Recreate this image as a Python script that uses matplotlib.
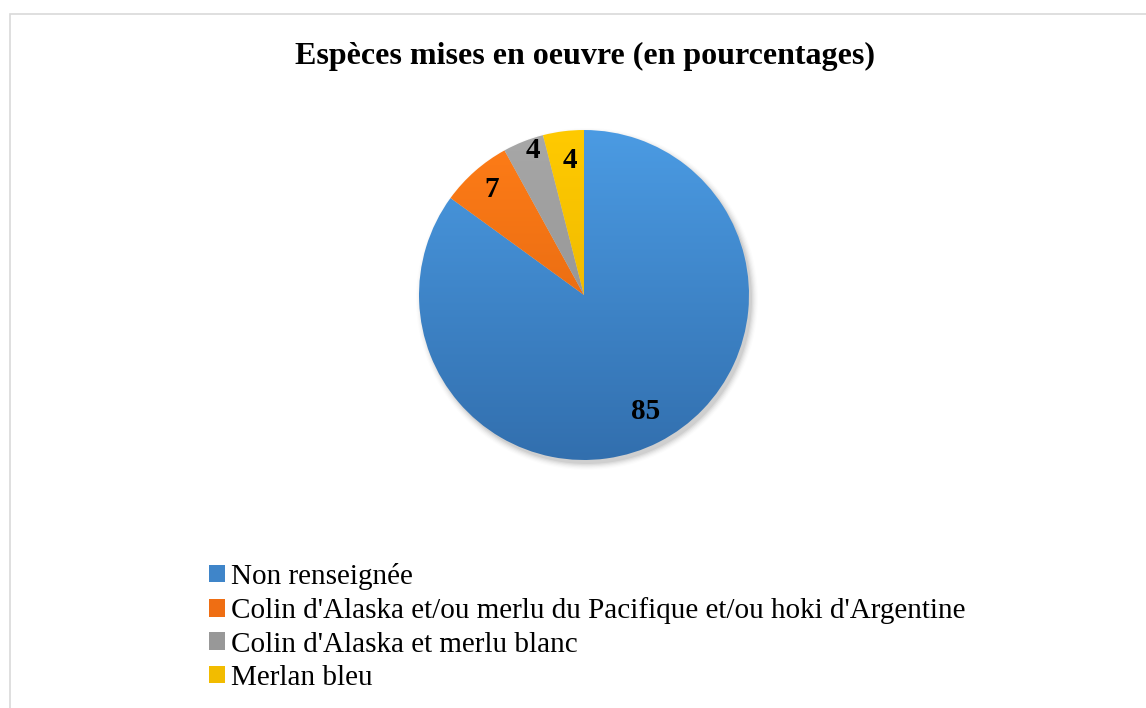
import numpy as np
import matplotlib.pyplot as plt
from matplotlib.patches import Rectangle, Circle, Patch
from matplotlib.colors import LinearSegmentedColormap

title = "Espèces mises en oeuvre (en pourcentages)"
categories = ["Non renseignée",
              "Colin d'Alaska et/ou merlu du Pacifique et/ou hoki d'Argentine",
              "Colin d'Alaska et merlu blanc",
              "Merlan bleu"]
values = [85, 7, 4, 4]
# top / bottom colours of each slice gradient
tops = ["#4b9be3", "#ff7d17", "#a8a8a8", "#ffca00"]
bottoms = ["#326fae", "#d9600f", "#878787", "#e3ad00"]
legend_colors = ["#3f85c9", "#ef6e13", "#989898", "#f2bc00"]
# label placement: radial distance and angle nudge (deg)
label_dist = [0.80, 0.85, 0.93, 0.82]
label_nudge = [1, 0, -2, -1]

plt.rcParams['font.family'] = ['Liberation Serif', 'DejaVu Serif']

W, H = 1146, 708
fig = plt.figure(figsize=(W / 100, H / 100), dpi=100)
ax = fig.add_axes([0, 0, 1, 1])

# chart frame
ax.add_patch(Rectangle((9.5, -5), W, H - 13.5 + 5, fill=False,
                       edgecolor='#d9d9d9', lw=1.2))

cx, cy, R = 584, H - 295, 165

# soft shadow
for i, a in enumerate(np.linspace(0.05, 0.012, 6)):
    ax.add_patch(Circle((cx + 3, cy - 4), R + i * 1.2, color='black',
                        alpha=a, lw=0, zorder=1))

wedges, _ = ax.pie(values, startangle=90, counterclock=False,
                   center=(cx, cy), radius=R, frame=True,
                   wedgeprops=dict(linewidth=0))

grad = np.linspace(0, 1, 256).reshape(-1, 1)
for w, t, b, val, d, n in zip(wedges, tops, bottoms, values, label_dist, label_nudge):
    w.set_zorder(2)
    w.set_facecolor('none')
    cmap = LinearSegmentedColormap.from_list('g', [t, b])
    im = ax.imshow(grad, cmap=cmap, aspect='auto', origin='upper',
                   extent=[cx - R, cx + R, cy - R, cy + R], zorder=2)
    im.set_clip_path(w)
    ang = np.deg2rad((w.theta1 + w.theta2) / 2 + n)
    ax.text(cx + d * R * np.cos(ang), cy + d * R * np.sin(ang), str(val),
            ha='center', va='center', fontsize=21, fontweight='bold', zorder=5)

ax.set_xlim(0, W)
ax.set_ylim(0, H)
ax.axis('off')

ax.text(585, H - 56, title, ha='center', va='center', fontsize=23,
        fontweight='bold')

handles = [Patch(facecolor=c, edgecolor='none') for c in legend_colors]
ax.legend(handles, categories, loc='upper left',
          bbox_to_anchor=(209, H - 563), bbox_transform=ax.transData,
          frameon=False, fontsize=21, handlelength=0.55, handleheight=0.55,
          handletextpad=0.2, labelspacing=0.25, borderpad=0, borderaxespad=0)

fig.savefig('out.png', dpi=100)
